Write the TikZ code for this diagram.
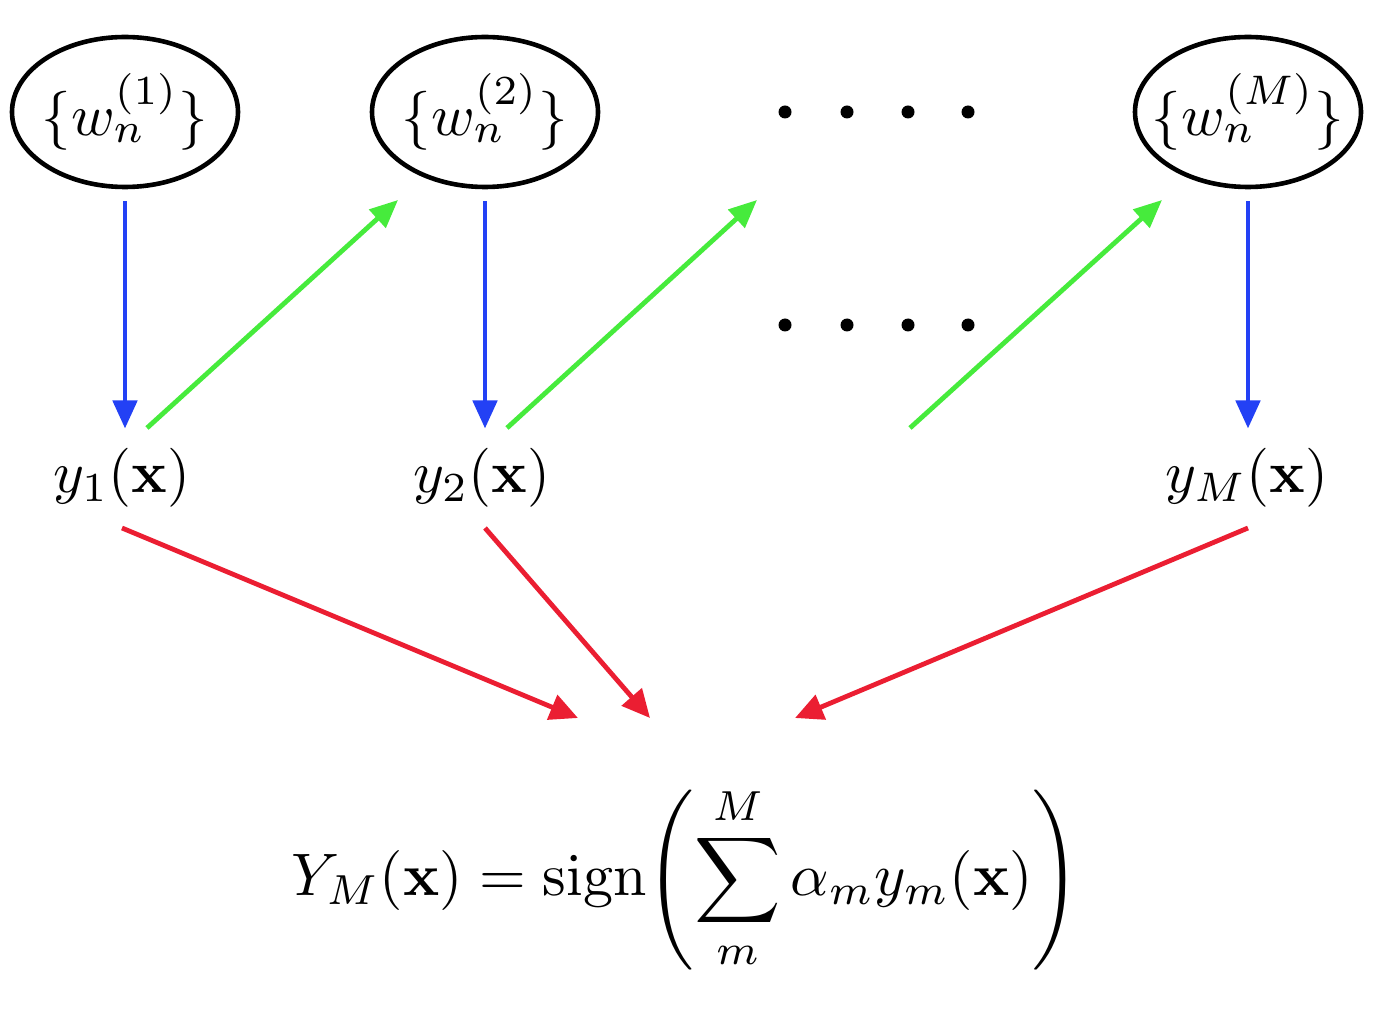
\documentclass[tikz,border=0pt]{standalone}
\usepackage{amsmath}
\usepackage{graphicx}
\usetikzlibrary{shapes.geometric,arrows.meta}
\definecolor{arblue}{RGB}{35,65,245}
\definecolor{argreen}{RGB}{70,235,60}
\definecolor{arred}{RGB}{235,30,50}
\newcommand{\bigtxt}[1]{\scalebox{2.95}{#1}}
\newcommand{\eltxt}[1]{\makebox[0pt]{\scalebox{2.95}{#1}}}
\tikzset{
  wnode/.style={ellipse,draw=black,line width=2.3pt,minimum width=113pt,minimum height=75pt,inner sep=0pt},
  ylab/.style={inner sep=0pt,outer sep=0pt},
  bluearr/.style={draw=arblue,line width=2.4pt,-{Triangle[length=14pt,width=12pt]},fill=arblue},
  greenarr/.style={draw=argreen,line width=2.4pt,-{Triangle[length=14pt,width=12pt]}},
  redarr/.style={draw=arred,line width=2.4pt,-{Triangle[length=14pt,width=13pt]}},
  dotmark/.style={circle,fill=black,inner sep=0pt,minimum size=6.5pt}
}
\begin{document}
\begin{tikzpicture}[x=0.5pt,y=-0.5pt]
\useasboundingbox (0,0) rectangle (1376,1026);
% parameter nodes
\node[wnode] (w1) at (125,112) {\eltxt{$\{w_n^{(1)}\}$}};
\node[wnode] (w2) at (485,112) {\eltxt{$\{w_n^{(2)}\}$}};
\node[wnode] (wM) at (1248,112) {\eltxt{$\{w_n^{(M)}\}$}};
% dots
\foreach \i/\x in {1/785,2/847,3/908,4/968}{
  \node[dotmark] (dt\i) at (\x,112) {};
  \node[dotmark] (dm\i) at (\x,325) {};
}
% classifiers
\node[ylab] (y1) at (122,478) {\bigtxt{$y_1(\mathbf{x})$}};
\node[ylab] (y2) at (482,478) {\bigtxt{$y_2(\mathbf{x})$}};
\node[ylab] (yM) at (1247,478) {\bigtxt{$y_M(\mathbf{x})$}};
% final formula
\node[inner sep=0pt] (F) at (686,878) {\scalebox{3.0}{$\displaystyle Y_M(\mathbf{x}) = \mathrm{sign}\!\left(\sum_{m}^{M}\alpha_m y_m(\mathbf{x})\right)$}};
% coordinates for free ends
\coordinate (g1s) at (147,428);
\coordinate (g1e) at (398,200);
\coordinate (g2s) at (507,428);
\coordinate (g2e) at (757,200);
\coordinate (g3s) at (910,428);
\coordinate (g3e) at (1162,200);
\coordinate (r1s) at (122,528);
\coordinate (r2s) at (485,528);
\coordinate (r3s) at (1248,528);
\coordinate (F1) at (578,718);
\coordinate (F2) at (650,718);
\coordinate (F3) at (795,718);
% blue arrows
\draw[bluearr,shorten <=6pt,shorten >=10pt] (w1.south) -- (w1.south |- y1.north);
\draw[bluearr,shorten <=6pt,shorten >=10pt] (w2.south) -- (w2.south |- y2.north);
\draw[bluearr,shorten <=6pt,shorten >=10pt] (wM.south) -- (wM.south |- yM.north);
% green arrows
\draw[greenarr] (g1s) -- (g1e);
\draw[greenarr] (g2s) -- (g2e);
\draw[greenarr] (g3s) -- (g3e);
% red arrows
\draw[redarr] (r1s) -- (F1);
\draw[redarr] (r2s) -- (F2);
\draw[redarr] (r3s) -- (F3);
\end{tikzpicture}
\end{document}
